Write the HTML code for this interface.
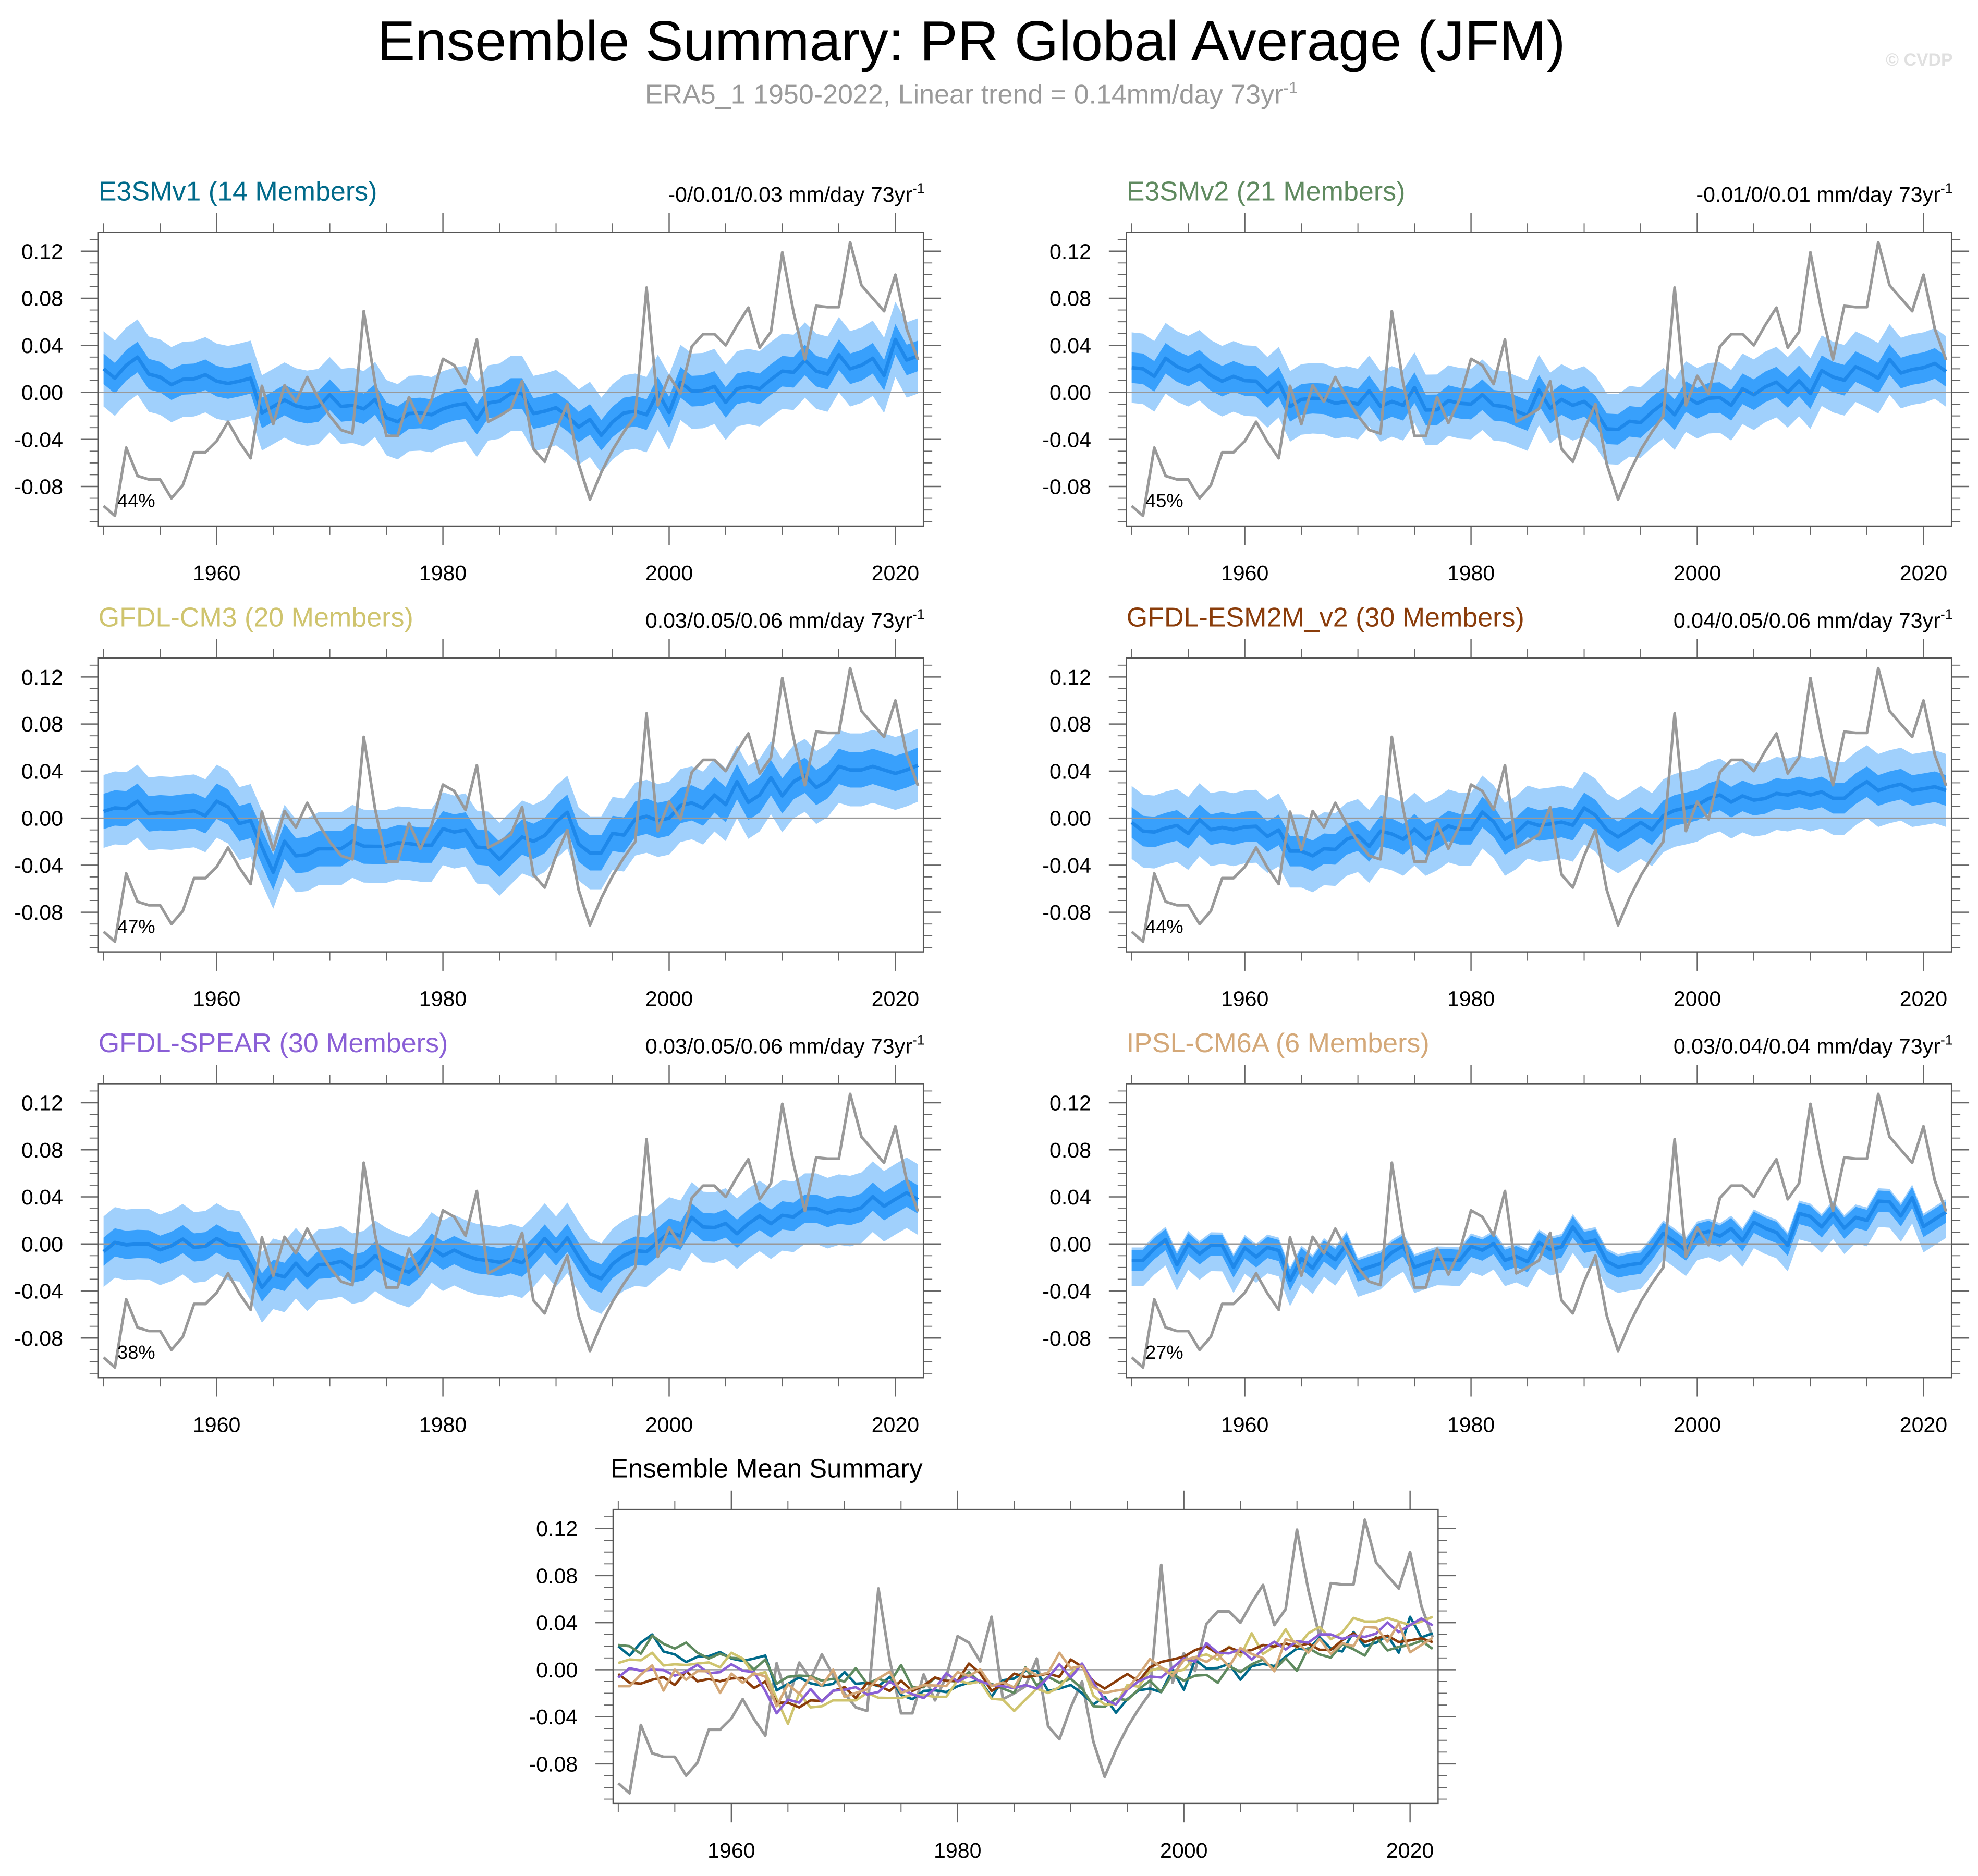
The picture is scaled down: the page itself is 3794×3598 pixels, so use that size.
<!DOCTYPE html>
<html><head><meta charset="utf-8"><style>
html,body{margin:0;padding:0;background:#fff;}
svg{display:block;}
text{font-family:"Liberation Sans",Arial,sans-serif;}
</style></head><body>
<svg id="chart" xmlns="http://www.w3.org/2000/svg" width="3794" height="3598" viewBox="0 0 1568 1487">
<rect width="1568" height="1487" fill="#fff"/>
<text x="770" y="48" font-size="45" text-anchor="middle" fill="#000">Ensemble Summary: PR Global Average (JFM)</text>
<text x="770" y="82" font-size="21.5" text-anchor="middle" fill="#9a9a9a">ERA5_1 1950-2022, Linear trend = 0.14mm/day 73yr<tspan dy="-8" font-size="13">-1</tspan></text>
<text x="1548" y="52" font-size="14" font-weight="bold" text-anchor="end" fill="#e0e0e0">© CVDP</text>
<g id="panels"></g>
</svg>
<script>
const years = [];
for (let y = 1950; y <= 2022; y++) years.push(y);
const era5 = [-0.0965,-0.105,-0.047,-0.071,-0.074,-0.074,-0.090,-0.079,-0.051,-0.051,-0.0415,-0.025,-0.042,-0.056,0.0055,-0.027,0.006,-0.008,0.013,-0.005,-0.020,-0.032,-0.035,0.069,0.008,-0.037,-0.037,-0.004,-0.026,-0.006,0.0285,0.023,0.007,0.045,-0.025,-0.020,-0.014,0.0095,-0.048,-0.059,-0.032,-0.010,-0.061,-0.091,-0.068,-0.049,-0.0335,-0.020,0.089,-0.011,0.014,-0.001,0.039,0.0495,0.0495,0.040,0.057,0.072,0.038,0.0515,0.119,0.068,0.028,0.0735,0.0725,0.0725,0.1275,0.091,0.080,0.069,0.100,0.054,0.0275];
const e3smv1 = [0.020,0.012,0.023,0.030,0.0155,0.013,0.0065,0.011,0.0115,0.015,0.0095,0.0075,0.0095,0.012,-0.0175,-0.012,-0.0065,-0.0115,-0.0135,-0.012,-0.002,-0.012,-0.011,-0.014,-0.006,-0.0215,-0.025,-0.018,-0.0175,-0.019,-0.014,-0.011,-0.0095,-0.023,-0.009,-0.0075,-0.001,-0.001,-0.018,-0.016,-0.013,-0.020,-0.0295,-0.023,-0.0365,-0.025,-0.0175,-0.016,-0.019,0.000,-0.017,0.0085,0.001,0.0015,0.005,-0.0085,0.003,0.005,0.003,0.011,0.018,0.017,0.0275,0.018,0.0155,0.032,0.020,0.023,0.029,0.0145,0.045,0.0275,0.031];
const e3smv2 = [0.021,0.020,0.0136,0.029,0.022,0.018,0.023,0.0144,0.0095,0.0136,0.010,0.0095,0,0.0087,-0.012,-0.006,-0.005,-0.0055,-0.0093,-0.0077,-0.010,0.0013,-0.012,-0.0077,-0.011,0.004,-0.015,-0.0148,-0.007,-0.0093,-0.010,-0.002,-0.011,-0.012,-0.016,-0.0197,0.002,-0.0134,-0.006,-0.011,-0.0077,-0.016,-0.031,-0.0315,-0.0246,-0.0257,-0.0167,-0.0093,-0.019,-0.0036,-0.0093,-0.005,-0.0044,-0.011,0.003,-0.002,0.0046,0.0087,0,0.0098,-0.001,0.0185,0.013,0.0103,0.0218,0.0174,0.012,0.028,0.0164,0.0194,0.021,0.0246,0.0177];
const gfdlcm3 = [0.0057,0.0087,0.008,0.0144,0.0036,0.0046,0.004,0.0052,0.0062,0.002,0.0144,0.0095,-0.0046,-0.002,-0.0246,-0.046,-0.0197,-0.032,-0.031,-0.026,-0.026,-0.026,-0.0197,-0.0238,-0.024,-0.024,-0.021,-0.0216,-0.023,-0.023,-0.009,-0.0118,-0.010,-0.0246,-0.0254,-0.035,-0.0254,-0.016,-0.0197,-0.0148,-0.0033,0.005,-0.022,-0.0295,-0.0295,-0.013,-0.0144,-0.0008,0.0016,-0.002,0,0.0107,0.013,0.0085,0.0197,0.0115,0.031,0.0134,0.0197,0.0344,0.0189,0.031,0.0364,0.026,0.0317,0.044,0.041,0.041,0.044,0.041,0.038,0.041,0.045];
const gfdlesm2m = [-0.0036,-0.011,-0.0118,-0.0085,-0.0062,-0.013,-0.0013,-0.0098,-0.0079,-0.0098,-0.0074,-0.0069,-0.0156,-0.010,-0.028,-0.028,-0.032,-0.026,-0.0266,-0.018,-0.0148,-0.024,-0.011,-0.0134,-0.018,-0.0094,-0.018,-0.0134,-0.0066,-0.0095,-0.0095,0.0052,-0.003,-0.018,-0.0123,-0.0033,-0.0062,-0.005,-0.0033,-0.006,0.0087,0.0025,-0.0098,-0.016,-0.0098,-0.0036,-0.0098,0.002,0.0066,0.0087,0.011,0.0167,0.0197,0.0136,0.0189,0.0153,0.0167,0.021,0.0197,0.0223,0.0197,0.0223,0.0169,0.0169,0.025,0.031,0.0235,0.0267,0.0289,0.0235,0.025,0.0267,0.0235];
const gfdlspear = [-0.0066,0.0013,-0.0008,0,-0.0003,-0.005,-0.0016,0.0041,-0.003,-0.002,0.0046,-0.0008,-0.002,-0.018,-0.037,-0.0254,-0.028,-0.0164,-0.027,-0.0177,-0.017,-0.0148,-0.021,-0.0189,-0.010,-0.0164,-0.0208,-0.024,-0.016,-0.003,-0.010,-0.0053,-0.0098,-0.013,-0.014,-0.0156,-0.013,-0.016,-0.0066,0.0046,-0.0066,0.0052,-0.011,-0.0254,-0.0295,-0.017,-0.0098,-0.0057,-0.0066,0.0016,0.0098,0.0069,0.0226,0.0144,0.0139,0.0174,0.0087,0.0172,0.0238,0.0172,0.0243,0.023,0.030,0.030,0.0262,0.0292,0.0279,0.0308,0.0402,0.032,0.038,0.0435,0.0377];
const ipslcm6a = [-0.014,-0.014,-0.004,0.0036,-0.0177,0,-0.0085,-0.0011,-0.0013,-0.0197,-0.0033,-0.011,-0.003,-0.0056,-0.031,-0.0123,-0.0205,-0.006,-0.0134,0,-0.023,-0.0197,-0.0167,-0.0074,-0.0016,-0.0197,-0.0164,-0.0131,-0.0134,-0.0139,-0.002,-0.0053,0.0003,-0.0139,-0.0107,-0.0151,0.0013,-0.0049,-0.0025,0.0144,0.0013,0.0033,-0.0148,-0.0197,-0.0177,-0.0164,-0.0046,0.009,0.002,-0.0053,0.0082,0.0107,0.0066,0.0131,0.0025,0.0184,0.0134,0.0098,-0.0013,0.0259,0.0233,0.0144,0.0262,0.0134,0.0226,0.02,0.0364,0.0358,0.0238,0.0394,0.0148,0.021,0.0271];
const modelNames = ["E3SMv1 (14 Members)","E3SMv2 (21 Members)","GFDL-CM3 (20 Members)","GFDL-ESM2M_v2 (30 Members)","GFDL-SPEAR (30 Members)","IPSL-CM6A (6 Members)"];
const trendLabels = ["-0/0.01/0.03 mm/day 73yr","-0.01/0/0.01 mm/day 73yr","0.03/0.05/0.06 mm/day 73yr","0.04/0.05/0.06 mm/day 73yr","0.03/0.05/0.06 mm/day 73yr","0.03/0.04/0.04 mm/day 73yr"];
const pctLabels = ["44%","45%","47%","44%","38%","27%"];
const innerSpread = [0.013,0.013,0.015,0.013,0.012,0.009];
const outerUp = [0.032,0.03,0.031,0.031,0.03,0.011];
const outerDn = [0.032,0.03,0.031,0.031,0.03,0.022];
const yTicks = [-0.08,-0.04,0,0.04,0.08,0.12];
const xTicks = [1960,1980,2000,2020];

const allMeans = [e3smv1,e3smv2,gfdlcm3,gfdlesm2m,gfdlspear,ipslcm6a];
const modelColors = ["#006a8a","#5f8a5f","#cfc46e","#8a3c0a","#8a5fd6","#d4a878"];
const NS = "http://www.w3.org/2000/svg";
const root = document.getElementById("panels");
function mk(tag, attrs, parent) {
  const e = document.createElementNS(NS, tag);
  for (const k in attrs) e.setAttribute(k, attrs[k]);
  (parent || root).appendChild(e);
  return e;
}
const W = 654, H = 233;
function axes(x0, y0) {
  const xs = yr => x0 + 4.1 + (yr - 1950) * 8.967;
  const ys = v => y0 + 127 - v * 932.5;
  return {xs, ys};
}
function frame(g, x0, y0, ax) {
  const {xs, ys} = ax;
  for (let i = -11; i <= 13; i++) {
    const v = i / 100, y = ys(v);
    const major = yTicks.some(t => Math.abs(t - v) < 1e-6);
    const L = major ? 14 : 7;
    mk("line", {x1: x0 - L, x2: x0, y1: y, y2: y, stroke: "#666", "stroke-width": major ? 1 : 0.8}, g);
    mk("line", {x1: x0 + W, x2: x0 + W + L, y1: y, y2: y, stroke: "#666", "stroke-width": major ? 1 : 0.8}, g);
  }
  for (let yr = 1950; yr <= 2020; yr += 5) {
    const x = xs(yr), major = yr % 20 === 0;
    const L = major ? 15 : 7;
    mk("line", {x1: x, x2: x, y1: y0 - L, y2: y0, stroke: "#666", "stroke-width": major ? 1 : 0.8}, g);
    mk("line", {x1: x, x2: x, y1: y0 + H, y2: y0 + H + L, stroke: "#666", "stroke-width": major ? 1 : 0.8}, g);
  }
  yTicks.forEach(v => {
    const t = mk("text", {x: x0 - 28, y: ys(v) + 6, "font-size": 17, "text-anchor": "end", fill: "#000"}, g);
    
    
    t.textContent = v.toFixed(2);
  });
  xTicks.forEach(yr => {
    const t = mk("text", {x: xs(yr), y: y0 + H + 43, "font-size": 17, "text-anchor": "middle", fill: "#000"}, g);
    
    
    t.textContent = yr;
  });
  const z = mk("line", {x1: x0, x2: x0 + W, y1: ys(0), y2: ys(0), stroke: "#999", "stroke-width": 1}, g);
  
  
}
function border(g, x0, y0) {
  const r = mk("rect", {x: x0, y: y0, width: W, height: H, fill: "none", stroke: "#555", "stroke-width": 1}, g);
  
  
}
function linePath(ax, arr) {
  return arr.map((v, i) => (i ? "L" : "M") + ax.xs(years[i]).toFixed(2) + "," + ax.ys(v).toFixed(2)).join("");
}
function bandPath(ax, lo, hi) {
  let d = "";
  hi.forEach((v, i) => { d += (i ? "L" : "M") + ax.xs(years[i]).toFixed(2) + "," + ax.ys(v).toFixed(2); });
  for (let i = lo.length - 1; i >= 0; i--) d += "L" + ax.xs(years[i]).toFixed(2) + "," + ax.ys(lo[i]).toFixed(2);
  return d + "Z";
}
const cols = [78, 893], rowY = [184, 521.5, 859];
allMeans.forEach((m, k) => {
  const x0 = cols[k % 2], y0 = rowY[Math.floor(k / 2)];
  const g = mk("g", {});
  
  
  const ax = axes(x0, y0);
  const outer = mk("path", {d: bandPath(ax, m.map(v => v - outerDn[k]), m.map(v => v + outerUp[k])), fill: "#a0d0fc"}, g);
  
  
  const inner = mk("path", {d: bandPath(ax, m.map(v => v - innerSpread[k]), m.map(v => v + innerSpread[k])), fill: "#38a0fc"}, g);
  
  
  frame(g, x0, y0, ax);
  const ml = mk("path", {d: linePath(ax, m), fill: "none", stroke: "#1e88ea", "stroke-width": 2.8, "stroke-linejoin": "round"}, g);
  
  
  const el = mk("path", {d: linePath(ax, era5), fill: "none", stroke: "#999", "stroke-width": 2.2, "stroke-linejoin": "round"}, g);
  
  
  border(g, x0, y0);
  const t = mk("text", {x: x0, y: y0 - 25, "font-size": 21.5, fill: modelColors[k]}, g);
  
  
  t.textContent = modelNames[k];
  const tr = mk("text", {x: x0 + W + 1, y: y0 - 24, "font-size": 17, "text-anchor": "end", fill: "#000"}, g);
  
  
  tr.textContent = trendLabels[k];
  const sup = mk("tspan", {dy: -7, "font-size": 11}, tr);
  sup.textContent = "-1";
  const p = mk("text", {x: x0 + 15, y: y0 + 218, "font-size": 15, fill: "#000"}, g);
  
  
  p.textContent = pctLabels[k];
});
(function () {
  const x0 = 486, y0 = 1196.5;
  const g = mk("g", {});
  
  
  const ax = axes(x0, y0);
  frame(g, x0, y0, ax);
  const el = mk("path", {d: linePath(ax, era5), fill: "none", stroke: "#999", "stroke-width": 2.2, "stroke-linejoin": "round"}, g);
  
  
  allMeans.forEach((m, k) => {
    const l = mk("path", {d: linePath(ax, m), fill: "none", stroke: modelColors[k], "stroke-width": 2, "stroke-linejoin": "round"}, g);
    
    
  });
  border(g, x0, y0);
  const t = mk("text", {x: 484, y: 1171, "font-size": 21, fill: "#000"}, g);
  
  
  t.textContent = "Ensemble Mean Summary";
})();
</script>
</body></html>
